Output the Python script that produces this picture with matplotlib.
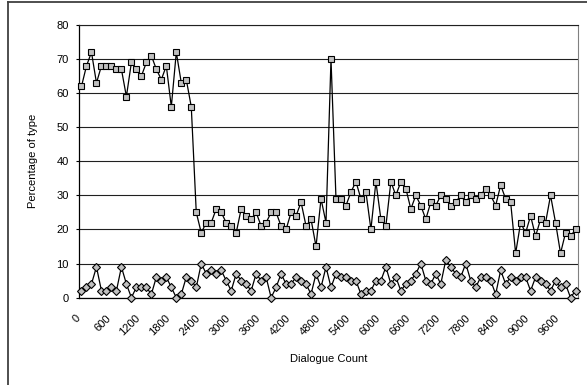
import matplotlib
matplotlib.use("Agg")
import matplotlib.pyplot as plt
from matplotlib.lines import Line2D
from matplotlib.transforms import ScaledTranslation
import numpy as np

plt.rcParams['font.family'] = ['Liberation Sans', 'DejaVu Sans']

# Dialogue count categories (0, 100, ..., 9900)
dialogue_count = list(range(0, 10000, 100))

series_squares = [62, 68, 72, 63, 68, 68, 68, 67, 67, 59,
                  69, 67, 65, 69, 71, 67, 64, 68, 56, 72,
                  63, 64, 56, 25, 19, 22, 22, 26, 25, 22,
                  21, 19, 26, 24, 23, 25, 21, 22, 25, 25,
                  21, 20, 25, 24, 28, 21, 23, 15, 29, 22,
                  70, 29, 29, 27, 31, 34, 29, 31, 20, 34,
                  23, 21, 34, 30, 34, 32, 26, 30, 27, 23,
                  28, 27, 30, 29, 27, 28, 30, 28, 30, 29,
                  30, 32, 30, 27, 33, 29, 28, 13, 22, 19,
                  24, 18, 23, 22, 30, 22, 13, 19, 18, 20]

series_diamonds = [2, 3, 4, 9, 2, 2, 3, 2, 9, 4,
                   0, 3, 3, 3, 1, 6, 5, 6, 3, 0,
                   1, 6, 5, 3, 10, 7, 8, 7, 8, 5,
                   2, 7, 5, 4, 2, 7, 5, 6, 0, 3,
                   7, 4, 4, 6, 5, 4, 1, 7, 3, 9,
                   3, 7, 6, 6, 5, 5, 1, 2, 2, 5,
                   5, 9, 4, 6, 2, 4, 5, 7, 10, 5,
                   4, 7, 4, 11, 9, 7, 6, 10, 5, 3,
                   6, 6, 5, 1, 8, 4, 6, 5, 6, 6,
                   2, 6, 5, 4, 2, 5, 3, 4, 0, 2]

x_ticks = list(range(0, 10000, 600))
y_ticks = [0, 10, 20, 30, 40, 50, 60, 70, 80]

W, H = 587, 385
fig = plt.figure(figsize=(W / 100, H / 100), dpi=100)
ax = fig.add_axes([79 / W, 1 - 297.6 / H, (578 - 79) / W, (297.6 - 25) / H])

ax.plot(dialogue_count, series_squares, color='black', lw=0.9,
        marker='s', ms=4.5, mfc='#c0c0c0', mec='black', mew=0.8, zorder=3,
        clip_on=False)
ax.plot(dialogue_count, series_diamonds, color='black', lw=0.9,
        marker='D', ms=3.7, mfc='#c0c0c0', mec='black', mew=0.8, zorder=3,
        clip_on=False)

ax.set_xlim(-50, 9950)
ax.set_ylim(0, 80)
ax.set_yticks(y_ticks)
ax.set_xticks(x_ticks)
ax.set_xticklabels([str(v) for v in x_ticks], rotation=45, ha='right',
                   rotation_mode='anchor', fontsize=8)
ax.tick_params(axis='x', length=0, pad=11)
ax.tick_params(axis='y', length=2.5, width=0.8, pad=5, labelsize=8, direction='out')
offset = ScaledTranslation(-6 / 100, 0, fig.dpi_scale_trans)
for lab in ax.get_xticklabels():
    lab.set_transform(lab.get_transform() + offset)

ax.yaxis.grid(True, color='#202020', lw=0.8)
ax.set_axisbelow(True)
ax.spines['left'].set_color('black')
ax.spines['bottom'].set_color('black')
ax.spines['left'].set_linewidth(0.9)
ax.spines['bottom'].set_linewidth(0.9)
ax.spines['top'].set_color('#202020')
ax.spines['top'].set_linewidth(0.8)
ax.spines['right'].set_color('#808080')
ax.spines['right'].set_linewidth(0.8)

ax.set_xlabel('Dialogue Count', fontsize=8)
ax.xaxis.set_label_coords(0.5, (297.6 - 359) / (297.6 - 25), transform=ax.transAxes)
ax.xaxis.label.set_va('center')
ax.set_ylabel('Percentage of type', fontsize=8)
ax.yaxis.set_label_coords((33 - 79) / (578 - 79), 0.5, transform=ax.transAxes)
ax.yaxis.label.set_va('center')

# chart-area border (visible on top and left)
fig.add_artist(Line2D([7.5 / W, 7.5 / W], [0, 1 - 1.5 / H], transform=fig.transFigure,
                      color='#404040', lw=1.3))
fig.add_artist(Line2D([7.5 / W, 1], [1 - 1.5 / H, 1 - 1.5 / H], transform=fig.transFigure,
                      color='#404040', lw=1.3))

fig.savefig('out.png', dpi=100)
